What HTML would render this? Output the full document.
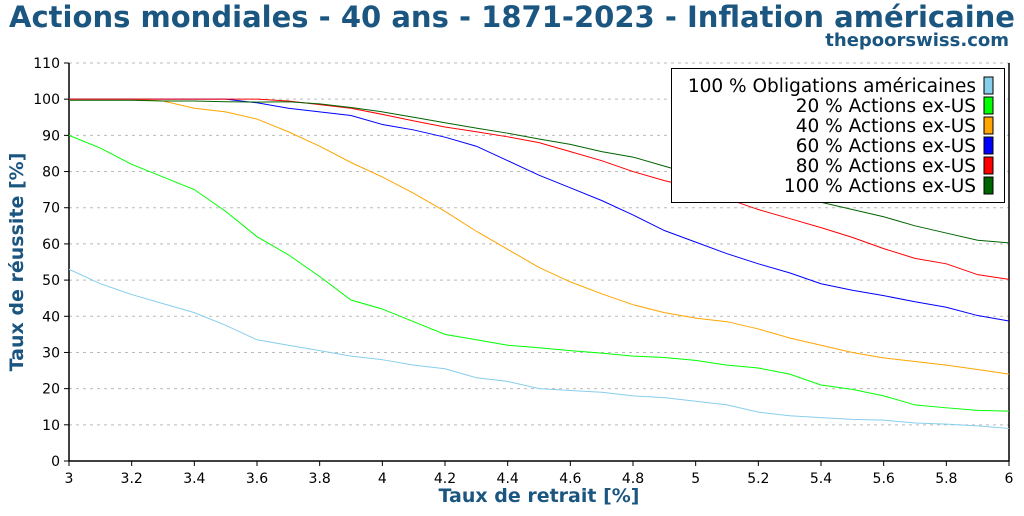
<!DOCTYPE html>
<html><head><meta charset="utf-8"><style>
body{margin:0;background:#fff;width:1024px;height:512px;overflow:hidden;font-family:"DejaVu Sans","Liberation Sans",sans-serif}
</style></head><body>
<svg id="chart" width="1024" height="512" xmlns="http://www.w3.org/2000/svg" font-family="DejaVu Sans, Liberation Sans, sans-serif">
<text x="512" y="27" text-anchor="middle" font-size="29" font-weight="bold" fill="#1b5680" textLength="1006" lengthAdjust="spacingAndGlyphs">Actions mondiales - 40 ans - 1871-2023 - Inflation américaine</text>
<text x="1009" y="46" text-anchor="end" font-size="18" font-weight="bold" fill="#1b5680">thepoorswiss.com</text>
<g id="grid"></g>
<g id="axes"></g>
<g id="series"></g>
<text x="539" y="502" text-anchor="middle" font-size="19" font-weight="bold" fill="#1b5680">Taux de retrait [%]</text>
<text transform="translate(23,262) rotate(-90)" text-anchor="middle" font-size="19" font-weight="bold" fill="#1b5680">Taux de réussite [%]</text>
<g id="legend"></g>
</svg>
<script>
const xValues=[3,3.1,3.2,3.3,3.4,3.5,3.6,3.7,3.8,3.9,4,4.1,4.2,4.3,4.4,4.5,4.6,4.7,4.8,4.9,5,5.1,5.2,5.3,5.4,5.5,5.6,5.7,5.8,5.9,6];
const bonds=[53,49,46,43.5,41,37.5,33.5,32,30.5,29,28,26.5,25.5,23,22,20,19.5,19,18,17.5,16.5,15.5,13.5,12.5,12,11.5,11.3,10.5,10.2,9.7,9];
const ex20=[90,86.5,82,78.5,75,69,62,57,51,44.5,42,38.5,35,33.5,32,31.3,30.5,29.8,29,28.6,27.8,26.5,25.7,24,21,19.8,18,15.5,14.7,14,13.8];
const ex40=[100,100,100,99.5,97.5,96.5,94.5,91,87,82.5,78.5,74,69,63.5,58.5,53.5,49.5,46.2,43.2,41,39.5,38.5,36.5,34,32,30,28.5,27.5,26.5,25.3,24];
const ex60=[100,100,100,100,100,100,99,97.5,96.5,95.5,93,91.5,89.5,87,83,79,75.5,72,68,63.7,60.5,57.3,54.5,52,49,47.2,45.7,44,42.5,40.2,38.7];
const ex80=[100,100,100,100,100,100,100,99.5,98.5,97.5,95.8,94,92.3,91,89.6,88,85.5,83,80,77.5,75.5,72.5,69.5,67,64.5,61.8,58.7,56,54.5,51.5,50.2];
const ex100=[99.7,99.7,99.7,99.5,99.5,99.3,99.2,99.3,98.7,97.7,96.5,95,93.5,92,90.6,89,87.5,85.5,84,81.5,79,76.5,74.5,73,71.5,69.5,67.5,65,63,61,60.3];
const seriesNames=["100 % Obligations américaines","20 % Actions ex-US","40 % Actions ex-US","60 % Actions ex-US","80 % Actions ex-US","100 % Actions ex-US"];
const xTicks=[3,3.2,3.4,3.6,3.8,4,4.2,4.4,4.6,4.8,5,5.2,5.4,5.6,5.8,6];
const yTicks=[0,10,20,30,40,50,60,70,80,90,100,110];

const NS="http://www.w3.org/2000/svg";
const L=69,R=1009,T=63,B=461;
const X=v=>L+(v-3)/3*(R-L);
const Y=v=>B-v/110*(B-T);
function mk(tag,attrs,parent){const e=document.createElementNS(NS,tag);for(const k in attrs)e.setAttribute(k,attrs[k]);parent.appendChild(e);return e;}
const grid=document.getElementById('grid'),axes=document.getElementById('axes'),ser=document.getElementById('series'),leg=document.getElementById('legend');
yTicks.forEach(t=>{
  if(t>0){const g=mk('line',{x1:L,x2:R,y1:Y(t),y2:Y(t),stroke:'#bbb','stroke-dasharray':'3,4','stroke-width':1},grid);
  
  }
  const tk=mk('line',{x1:L-5,x2:L,y1:Y(t),y2:Y(t),stroke:'#000'},axes);
  
  
  const tx=mk('text',{x:L-9,y:Y(t)+5,'text-anchor':'end','font-size':14},axes);tx.textContent=t;
  
  
});
xTicks.forEach(t=>{
  const tk=mk('line',{x1:X(t),x2:X(t),y1:B,y2:B+5,stroke:'#000'},axes);
  
  
  const tx=mk('text',{x:X(t),y:B+22,'text-anchor':'middle','font-size':14},axes);tx.textContent=t;
  
  
});
const ax=mk('path',{d:`M${L},${T} V${B} H${R} V${T}`,fill:'none',stroke:'#000','stroke-width':1.5},axes);


const data=[bonds,ex20,ex40,ex60,ex80,ex100];
const colors=['#87ceeb','#00ff00','#ffa500','#0000ff','#ff0000','#006400'];
data.forEach((s,i)=>{
  const p=mk('polyline',{points:s.map((v,j)=>X(xValues[j])+','+Y(v)).join(' '),fill:'none',stroke:colors[i],'stroke-width':1},ser);
  
  
});
const box=mk('rect',{x:671.5,y:68.5,width:333,height:134,fill:'#fff',stroke:'#000'},leg);


seriesNames.forEach((n,i)=>{
  const y=85+i*20;
  const t=mk('text',{x:976,y:y+7,'text-anchor':'end','font-size':18.5},leg);t.textContent=n;
  
  
  const r=mk('rect',{x:984,y:y-8,width:9,height:17,fill:colors[i],stroke:'#000'},leg);
  
  
});
</script>
</body></html>
